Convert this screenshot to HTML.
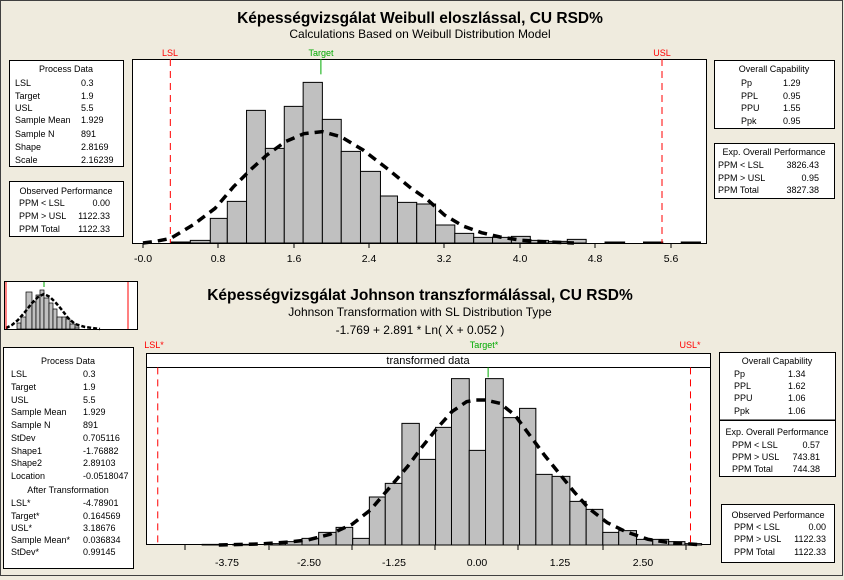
<!DOCTYPE html>
<html><head><meta charset="utf-8"><style>
html,body{margin:0;padding:0;background:#efebde;}
svg{display:block;font-family:"Liberation Sans",sans-serif;}
.t{font-size:9px;fill:#000;}
.ax{font-size:10.5px;fill:#000;}
</style></head><body>
<svg width="844" height="580" viewBox="0 0 844 580" xmlns="http://www.w3.org/2000/svg">
<rect x="0" y="0" width="844" height="580" fill="#efebde"/>
<rect x="0.5" y="0.5" width="842" height="575" fill="none" stroke="#404040"/>
<!-- Titles -->
<text x="420" y="23" text-anchor="middle" font-size="15.5" font-weight="bold">Képességvizsgálat Weibull eloszlással, CU RSD%</text>
<text x="420" y="38" text-anchor="middle" font-size="12">Calculations Based on Weibull Distribution Model</text>
<text x="420" y="300" text-anchor="middle" font-size="15.5" font-weight="bold">Képességvizsgálat Johnson transzformálással, CU RSD%</text>
<text x="420" y="316" text-anchor="middle" font-size="12">Johnson Transformation with SL Distribution Type</text>
<text x="420" y="334" text-anchor="middle" font-size="12">-1.769 + 2.891 * Ln( X + 0.052 )</text>

<!-- Top plot -->
<rect x="132.5" y="59.5" width="574" height="184" fill="#fff" stroke="#000"/>
<g transform="translate(130,40) scale(0.36996,0.33333)" fill="#c0c0c0" stroke="#000">
<g vector-effect="non-scaling-stroke">
<rect x="110" y="606" width="53" height="3" vector-effect="non-scaling-stroke"/>
<rect x="163" y="601" width="54" height="8" vector-effect="non-scaling-stroke"/>
<rect x="217" y="535" width="46" height="74" vector-effect="non-scaling-stroke"/>
<rect x="263" y="484" width="52" height="125" vector-effect="non-scaling-stroke"/>
<rect x="315" y="211" width="51" height="398" vector-effect="non-scaling-stroke"/>
<rect x="366" y="325" width="51" height="284" vector-effect="non-scaling-stroke"/>
<rect x="417" y="199" width="51" height="410" vector-effect="non-scaling-stroke"/>
<rect x="468" y="127" width="52" height="482" vector-effect="non-scaling-stroke"/>
<rect x="520" y="238" width="51" height="371" vector-effect="non-scaling-stroke"/>
<rect x="571" y="334" width="52" height="275" vector-effect="non-scaling-stroke"/>
<rect x="623" y="394" width="54" height="215" vector-effect="non-scaling-stroke"/>
<rect x="677" y="468" width="46" height="141" vector-effect="non-scaling-stroke"/>
<rect x="723" y="487" width="52" height="122" vector-effect="non-scaling-stroke"/>
<rect x="775" y="492" width="51" height="117" vector-effect="non-scaling-stroke"/>
<rect x="826" y="555" width="52" height="54" vector-effect="non-scaling-stroke"/>
<rect x="878" y="580" width="51" height="29" vector-effect="non-scaling-stroke"/>
<rect x="929" y="592" width="51" height="17" vector-effect="non-scaling-stroke"/>
<rect x="980" y="592" width="51" height="17" vector-effect="non-scaling-stroke"/>
<rect x="1031" y="589" width="51" height="20" vector-effect="non-scaling-stroke"/>
<rect x="1082" y="601" width="49" height="8" vector-effect="non-scaling-stroke"/>
<rect x="1131" y="604" width="51" height="5" vector-effect="non-scaling-stroke"/>
<rect x="1182" y="598" width="51" height="11" vector-effect="non-scaling-stroke"/>
<rect x="1284" y="606" width="53" height="3" vector-effect="non-scaling-stroke"/>
<rect x="1388" y="606" width="52" height="3" vector-effect="non-scaling-stroke"/>
<rect x="1490" y="606" width="52" height="3" vector-effect="non-scaling-stroke"/>
</g>
<polyline fill="none" stroke="#000" stroke-width="3.5" stroke-dasharray="9,6" vector-effect="non-scaling-stroke"
points="35,609 70,604 110,595 170,555 230,505 280,440 330,385 370,345 420,305 470,281 520,275 570,290 630,330 700,390 760,445 800,475 850,525 900,558 950,578 1000,591 1060,601 1130,606 1200,609"/>
<line x1="109" y1="57" x2="109" y2="609" stroke="#f00" stroke-dasharray="7,5" vector-effect="non-scaling-stroke"/>
<line x1="1438" y1="57" x2="1438" y2="609" stroke="#f00" stroke-dasharray="7,5" vector-effect="non-scaling-stroke"/>
<line x1="516" y1="57" x2="516" y2="103" stroke="#0a0" vector-effect="non-scaling-stroke"/>
</g>
<text x="170" y="56" text-anchor="middle" font-size="9" fill="#f00">LSL</text>
<text x="321" y="56" text-anchor="middle" font-size="9" fill="#0a0">Target</text>
<text x="662" y="56" text-anchor="middle" font-size="9" fill="#f00">USL</text>
<g stroke="#000">
<line x1="143" y1="244" x2="143" y2="248"/><line x1="218" y1="244" x2="218" y2="248"/><line x1="294" y1="244" x2="294" y2="248"/><line x1="369" y1="244" x2="369" y2="248"/><line x1="444" y1="244" x2="444" y2="248"/><line x1="520" y1="244" x2="520" y2="248"/><line x1="595" y1="244" x2="595" y2="248"/><line x1="671" y1="244" x2="671" y2="248"/>
</g>
<g class="ax" text-anchor="middle">
<text x="143" y="262">-0.0</text><text x="218" y="262">0.8</text><text x="294" y="262">1.6</text><text x="369" y="262">2.4</text><text x="444" y="262">3.2</text><text x="520" y="262">4.0</text><text x="595" y="262">4.8</text><text x="671" y="262">5.6</text>
</g>

<!-- Top left boxes -->
<rect x="9.5" y="60.5" width="114" height="106" fill="#fff" stroke="#000"/>
<g class="t">
<text x="66" y="72" text-anchor="middle">Process Data</text>
<text x="15" y="86">LSL</text><text x="81" y="86">0.3</text>
<text x="15" y="99">Target</text><text x="81" y="99">1.9</text>
<text x="15" y="111">USL</text><text x="81" y="111">5.5</text>
<text x="15" y="123">Sample Mean</text><text x="81" y="123">1.929</text>
<text x="15" y="137">Sample N</text><text x="81" y="137">891</text>
<text x="15" y="150">Shape</text><text x="81" y="150">2.8169</text>
<text x="15" y="163">Scale</text><text x="81" y="163">2.16239</text>
</g>
<rect x="9.5" y="181.5" width="114" height="55" fill="#fff" stroke="#000"/>
<g class="t">
<text x="66" y="194" text-anchor="middle">Observed Performance</text>
<text x="19" y="206">PPM &lt; LSL</text><text x="110" y="206" text-anchor="end">0.00</text>
<text x="19" y="219">PPM &gt; USL</text><text x="110" y="219" text-anchor="end">1122.33</text>
<text x="19" y="232">PPM Total</text><text x="110" y="232" text-anchor="end">1122.33</text>
</g>

<!-- Top right boxes -->
<rect x="714.5" y="60.5" width="120" height="68" fill="#fff" stroke="#000"/>
<g class="t">
<text x="774" y="72" text-anchor="middle">Overall Capability</text>
<text x="741" y="86">Pp</text><text x="783" y="86">1.29</text>
<text x="741" y="99">PPL</text><text x="783" y="99">0.95</text>
<text x="741" y="111">PPU</text><text x="783" y="111">1.55</text>
<text x="741" y="124">Ppk</text><text x="783" y="124">0.95</text>
</g>
<rect x="714.5" y="143.5" width="120" height="55" fill="#fff" stroke="#000"/>
<g class="t">
<text x="774" y="155" text-anchor="middle">Exp. Overall Performance</text>
<text x="718" y="168">PPM &lt; LSL</text><text x="819" y="168" text-anchor="end">3826.43</text>
<text x="718" y="181">PPM &gt; USL</text><text x="819" y="181" text-anchor="end">0.95</text>
<text x="718" y="193">PPM Total</text><text x="819" y="193" text-anchor="end">3827.38</text>
</g>

<!-- Mini plot -->
<rect x="4.5" y="281.5" width="133" height="48" fill="#fff" stroke="#000"/>
<g fill="#c0c0c0" stroke="#000" stroke-width="0.7">
<rect x="17" y="323" width="4" height="6"/><rect x="21" y="317" width="5" height="12"/><rect x="26" y="292" width="6" height="37"/><rect x="32" y="302" width="4" height="27"/><rect x="36" y="295" width="4" height="34"/><rect x="40" y="290" width="4" height="39"/><rect x="44" y="298" width="5" height="31"/><rect x="49" y="303" width="4" height="26"/><rect x="53" y="309" width="4" height="20"/><rect x="57" y="317" width="5" height="12"/><rect x="62" y="317" width="4" height="12"/><rect x="66" y="319" width="4" height="10"/><rect x="70" y="324" width="5" height="5"/><rect x="75" y="327" width="4" height="2"/>
</g>
<polyline fill="none" stroke="#000" stroke-width="2.5" stroke-dasharray="4,2" points="6,328 12,325 18,320 25,312 32,303 38,297 44,294 50,297 56,303 62,310 68,318 75,324 85,327 100,329"/>
<line x1="6" y1="282" x2="6" y2="329" stroke="#f00"/>
<line x1="128" y1="282" x2="128" y2="329" stroke="#f00"/>
<line x1="44" y1="282" x2="44" y2="287" stroke="#0a0"/>

<!-- Bottom plot -->
<rect x="146.5" y="353.5" width="564" height="191" fill="#fff" stroke="#000"/>
<line x1="146" y1="367.5" x2="711" y2="367.5" stroke="#000"/>
<text x="428" y="364" text-anchor="middle" font-size="11">transformed data</text>
<g transform="translate(130,340) scale(0.36996,0.33333)" fill="#c0c0c0" stroke="#000">
<rect x="195" y="613" width="45" height="2" vector-effect="non-scaling-stroke"/>
<rect x="278" y="613" width="42" height="2" vector-effect="non-scaling-stroke"/>
<rect x="380" y="611" width="40" height="4" vector-effect="non-scaling-stroke"/>
<rect x="420" y="605" width="45" height="10" vector-effect="non-scaling-stroke"/>
<rect x="465" y="595" width="45" height="20" vector-effect="non-scaling-stroke"/>
<rect x="510" y="577" width="47" height="38" vector-effect="non-scaling-stroke"/>
<rect x="557" y="562" width="45" height="53" vector-effect="non-scaling-stroke"/>
<rect x="602" y="595" width="45" height="20" vector-effect="non-scaling-stroke"/>
<rect x="647" y="471" width="43" height="144" vector-effect="non-scaling-stroke"/>
<rect x="690" y="430" width="45" height="185" vector-effect="non-scaling-stroke"/>
<rect x="735" y="250" width="47" height="365" vector-effect="non-scaling-stroke"/>
<rect x="782" y="358" width="44" height="257" vector-effect="non-scaling-stroke"/>
<rect x="826" y="262" width="43" height="353" vector-effect="non-scaling-stroke"/>
<rect x="869" y="116" width="48" height="499" vector-effect="non-scaling-stroke"/>
<rect x="917" y="331" width="44" height="284" vector-effect="non-scaling-stroke"/>
<rect x="961" y="116" width="48" height="499" vector-effect="non-scaling-stroke"/>
<rect x="1009" y="233" width="44" height="382" vector-effect="non-scaling-stroke"/>
<rect x="1053" y="205" width="44" height="410" vector-effect="non-scaling-stroke"/>
<rect x="1097" y="403" width="44" height="212" vector-effect="non-scaling-stroke"/>
<rect x="1141" y="409" width="48" height="206" vector-effect="non-scaling-stroke"/>
<rect x="1189" y="484" width="44" height="131" vector-effect="non-scaling-stroke"/>
<rect x="1233" y="508" width="45" height="107" vector-effect="non-scaling-stroke"/>
<rect x="1278" y="577" width="43" height="38" vector-effect="non-scaling-stroke"/>
<rect x="1321" y="572" width="48" height="43" vector-effect="non-scaling-stroke"/>
<rect x="1369" y="598" width="44" height="17" vector-effect="non-scaling-stroke"/>
<rect x="1413" y="598" width="43" height="17" vector-effect="non-scaling-stroke"/>
<rect x="1456" y="605" width="44" height="10" vector-effect="non-scaling-stroke"/>
<rect x="1500" y="611" width="45" height="4" vector-effect="non-scaling-stroke"/>
<polyline fill="none" stroke="#000" stroke-width="3.5" stroke-dasharray="9,6" vector-effect="non-scaling-stroke"
points="240,615 350,612 430,606 480,600 540,583 600,553 650,510 700,445 750,380 790,320 830,265 870,215 910,185 935,180 960,180 1000,190 1040,225 1080,285 1120,345 1160,400 1200,455 1240,505 1290,548 1340,575 1400,598 1460,608 1540,614"/>
<line x1="75" y1="82" x2="75" y2="615" stroke="#f00" stroke-dasharray="7,5" vector-effect="non-scaling-stroke"/>
<line x1="1515" y1="82" x2="1515" y2="615" stroke="#f00" stroke-dasharray="7,5" vector-effect="non-scaling-stroke"/>
<line x1="968" y1="82" x2="968" y2="112" stroke="#0a0" vector-effect="non-scaling-stroke"/>
</g>
<text x="154" y="348" text-anchor="middle" font-size="9" fill="#f00">LSL*</text>
<text x="484" y="348" text-anchor="middle" font-size="9" fill="#0a0">Target*</text>
<text x="690" y="348" text-anchor="middle" font-size="9" fill="#f00">USL*</text>
<g stroke="#000">
<line x1="185" y1="545" x2="185" y2="550"/><line x1="269" y1="545" x2="269" y2="550"/><line x1="352" y1="545" x2="352" y2="550"/><line x1="435" y1="545" x2="435" y2="550"/><line x1="518" y1="545" x2="518" y2="550"/><line x1="603" y1="545" x2="603" y2="550"/><line x1="686" y1="545" x2="686" y2="550"/>
</g>
<g class="ax" text-anchor="middle">
<text x="227" y="566">-3.75</text><text x="309" y="566">-2.50</text><text x="394" y="566">-1.25</text><text x="477" y="566">0.00</text><text x="560" y="566">1.25</text><text x="643" y="566">2.50</text>
</g>

<!-- Bottom left box -->
<rect x="3.5" y="347.5" width="130" height="221" fill="#fff" stroke="#000"/>
<g class="t">
<text x="68" y="364" text-anchor="middle">Process Data</text>
<text x="11" y="377">LSL</text><text x="83" y="377">0.3</text>
<text x="11" y="390">Target</text><text x="83" y="390">1.9</text>
<text x="11" y="403">USL</text><text x="83" y="403">5.5</text>
<text x="11" y="415">Sample Mean</text><text x="83" y="415">1.929</text>
<text x="11" y="428">Sample N</text><text x="83" y="428">891</text>
<text x="11" y="441">StDev</text><text x="83" y="441">0.705116</text>
<text x="11" y="454">Shape1</text><text x="83" y="454">-1.76882</text>
<text x="11" y="466">Shape2</text><text x="83" y="466">2.89103</text>
<text x="11" y="479">Location</text><text x="83" y="479">-0.0518047</text>
<text x="68" y="493" text-anchor="middle">After Transformation</text>
<text x="11" y="506">LSL*</text><text x="83" y="506">-4.78901</text>
<text x="11" y="519">Target*</text><text x="83" y="519">0.164569</text>
<text x="11" y="531">USL*</text><text x="83" y="531">3.18676</text>
<text x="11" y="543">Sample Mean*</text><text x="83" y="543">0.036834</text>
<text x="11" y="555">StDev*</text><text x="83" y="555">0.99145</text>
</g>

<!-- Bottom right boxes -->
<rect x="719.5" y="352.5" width="116" height="68" fill="#fff" stroke="#000"/>
<line x1="719" y1="420.5" x2="836" y2="420.5" stroke="#000" stroke-width="2"/>
<g class="t">
<text x="777" y="364" text-anchor="middle">Overall Capability</text>
<text x="734" y="377">Pp</text><text x="788" y="377">1.34</text>
<text x="734" y="389">PPL</text><text x="788" y="389">1.62</text>
<text x="734" y="401">PPU</text><text x="788" y="401">1.06</text>
<text x="734" y="414">Ppk</text><text x="788" y="414">1.06</text>
</g>
<rect x="719.5" y="420.5" width="116" height="56" fill="#fff" stroke="#000"/>
<g class="t">
<text x="777" y="435" text-anchor="middle">Exp. Overall Performance</text>
<text x="732" y="448">PPM &lt; LSL</text><text x="820" y="448" text-anchor="end">0.57</text>
<text x="732" y="460">PPM &gt; USL</text><text x="820" y="460" text-anchor="end">743.81</text>
<text x="732" y="472">PPM Total</text><text x="820" y="472" text-anchor="end">744.38</text>
</g>
<rect x="721.5" y="504.5" width="113" height="58" fill="#fff" stroke="#000"/>
<g class="t">
<text x="778" y="518" text-anchor="middle">Observed Performance</text>
<text x="734" y="530">PPM &lt; LSL</text><text x="826" y="530" text-anchor="end">0.00</text>
<text x="734" y="542">PPM &gt; USL</text><text x="826" y="542" text-anchor="end">1122.33</text>
<text x="734" y="555">PPM Total</text><text x="826" y="555" text-anchor="end">1122.33</text>
</g>
</svg>
</body></html>
